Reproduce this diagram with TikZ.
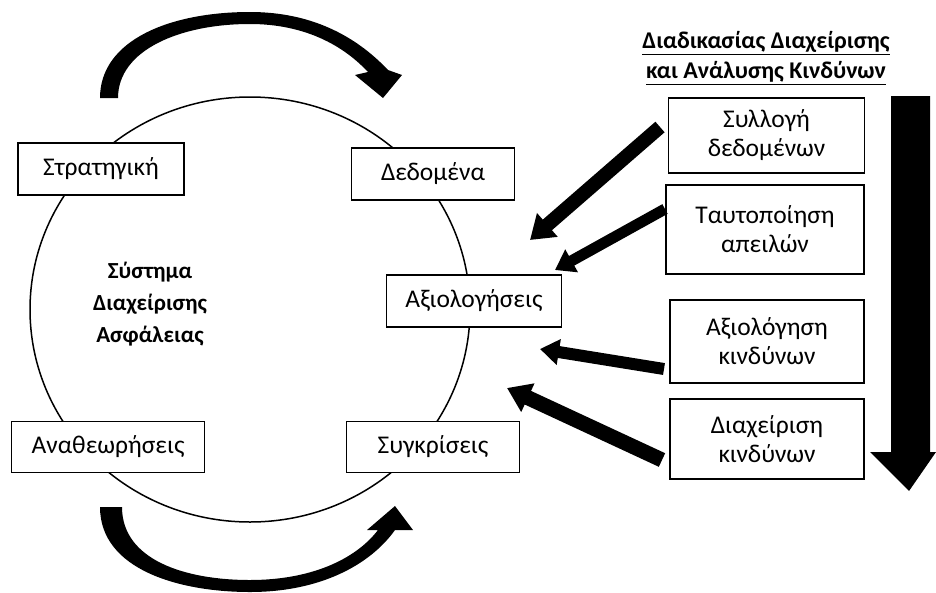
\documentclass[tikz,border=0pt]{standalone}
\usepackage{fontspec}
\setmainfont{Carlito}
\usetikzlibrary{arrows.meta}
\begin{document}
\begin{tikzpicture}[x=1pt,y=-1pt,
  box/.style={draw, line width=1.6pt, minimum width=#1, minimum height=52pt,
    font=\fontsize{25.5}{30}\selectfont, inner sep=0pt, align=center, fill=white},
  rbox/.style={draw, line width=1.6pt, minimum width=196pt,
    font=\fontsize{25.5}{29}\selectfont, inner sep=0pt, align=center, fill=white},
  fatarrow/.style={line width=#1, -{Triangle[width=30pt,length=23pt]}},
  fatarrows/.style={line width=#1, -{Triangle[width=25pt,length=19pt]}}
]
\useasboundingbox (0,0) rectangle (936,592);
% circle
\draw[line width=1.5pt] (250,309.5) ellipse [x radius=220pt, y radius=212.5pt];
% curved arrows
\fill (100,98) .. controls (100,40) and (170,12) .. (250,12)
  .. controls (310,12) and (355,35) .. (388,70) -- (402,75) -- (383,98) -- (355,75) -- (368,72)
  .. controls (340,42) and (300,24) .. (250,24)
  .. controls (180,24) and (118,50) .. (118,98) -- cycle;
\fill (100,507) .. controls (100,570) and (180,592) .. (250,592)
  .. controls (320,592) and (370,565) .. (395,530) -- (413,530) -- (395,506) -- (367,530) -- (378,530)
  .. controls (355,560) and (310,580) .. (250,580)
  .. controls (185,580) and (122,560) .. (122,507) -- cycle;
% big down arrow
\fill (891,96) -- (930,96) -- (930,452) -- (936,452) -- (909,491) -- (870,452) -- (891,452) -- cycle;
% boxes on circle
\node[box=166pt] (strat) at (101,169) {Στρατηγική};
\node[box=163pt] (dedo) at (433,174) {Δεδομένα};
\node[box=175pt] (axiol) at (474,301) {Αξιολογήσεις};
\node[box=193pt, minimum height=51pt] (anath) at (108,447) {Αναθεωρήσεις};
\node[box=173pt, minimum height=51pt] (sygk) at (433,447) {Συγκρίσεις};
% centre text
\node[font=\bfseries\fontsize{23}{32}\selectfont, align=center] (sys) at (150,304) {Σύστημα\\Διαχείρισης\\Ασφάλειας};
% title
\node[font=\bfseries\fontsize{24}{30}\selectfont, align=center] (title) at (766,58)
  {\underline{Διαδικασίας Διαχείρισης}\\\underline{και Ανάλυσης Κινδύνων}};
% right boxes
\node[rbox, minimum height=75pt] (syl) at (766.5,135.5) {Συλλογή\\δεδομένων};
\node[rbox, minimum height=89pt, minimum width=198pt] (tayt) at (765,229.5) {Ταυτοποίηση\\απειλών};
\node[rbox, minimum height=83pt, minimum width=194pt] (axk) at (767,341.5) {Αξιολόγηση\\κινδύνων};
\node[rbox, minimum height=80pt, minimum width=194pt] (diax) at (767,439) {Διαχείριση\\κινδύνων};
% straight arrows
\coordinate (a1s) at (660,127);
\coordinate (a1e) at (530,240);
\coordinate (a2s) at (665,209);
\coordinate (a2e) at (555,270);
\coordinate (a3s) at (664,369);
\coordinate (a3e) at (540,349);
\coordinate (a4s) at (662,460);
\coordinate (a4e) at (507,388);
\draw[fatarrow=14pt] (a1s) -- (a1e);
\draw[fatarrows=11pt] (a2s) -- (a2e);
\draw[fatarrows=12pt] (a3s) -- (a3e);
\draw[fatarrow=15pt] (a4s) -- (a4e);
\end{tikzpicture}
\end{document}
